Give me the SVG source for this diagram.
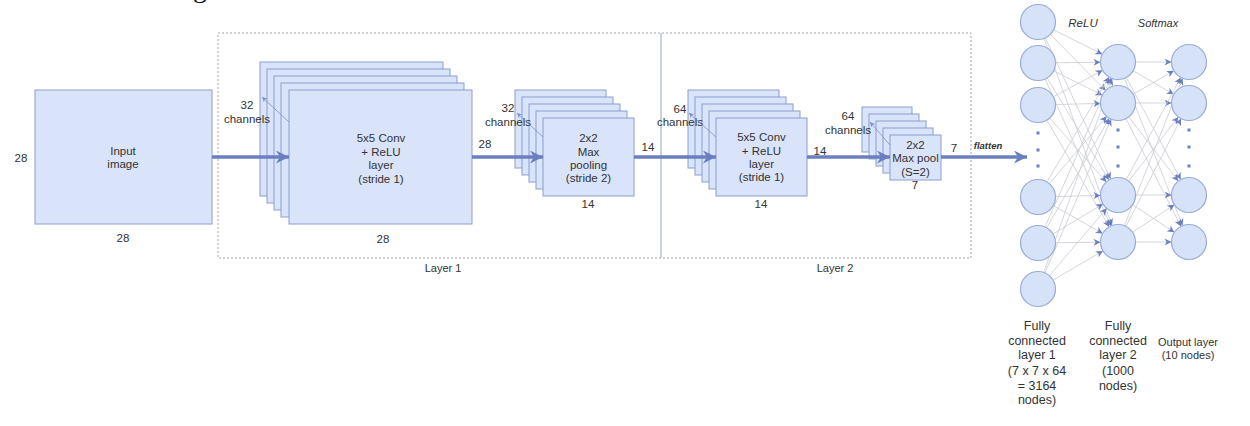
<svg xmlns="http://www.w3.org/2000/svg" width="1250" height="426" viewBox="0 0 1250 426">
<style>
text{font-family:"Liberation Sans",Arial,sans-serif;fill:#333;font-size:11.5px;text-anchor:middle}
.box{fill:#d9e3f9;stroke:#8a9fd0;stroke-width:1}
.node{fill:#d6e2f8;stroke:#98acd8;stroke-width:1.2}
.big{stroke:#6a7fc1;stroke-width:3.5;fill:none}
.thin{stroke:#7d8fc6;stroke-width:0.8;fill:none}
.fc{stroke:#c9ccd3;stroke-width:0.8;fill:none}
.dot{fill:#6c80c0}
.it{font-style:italic}
.lbl{font-size:12.5px}
</style>
<defs>
<marker id="ah" viewBox="0 0 10 10" refX="10" refY="5" markerWidth="15" markerHeight="13" markerUnits="userSpaceOnUse" orient="auto"><path d="M0,0 L10,5 L0,10 L3,5 Z" fill="#6a7fc1"/></marker>
<marker id="sa" viewBox="0 0 10 10" refX="10" refY="5" markerWidth="6" markerHeight="5" markerUnits="userSpaceOnUse" orient="auto"><path d="M0,0 L10,5 L0,10 L3,5 Z" fill="#7d8fc6"/></marker>
<marker id="fa" viewBox="0 0 10 10" refX="10" refY="5" markerWidth="7" markerHeight="7" markerUnits="userSpaceOnUse" orient="auto"><path d="M0,0 L10,5 L0,10 L3,5 Z" fill="#6a7fc1"/></marker>
</defs>
<rect width="1250" height="426" fill="#fff"/>
<text x="200" y="-3" style="font-family:'Liberation Serif',serif;font-size:28px;fill:#111">g</text>

<g id="layer-frame">
<rect x="218" y="33" width="753" height="225" fill="none" stroke="#a3a3a3" stroke-dasharray="2,2"/>
<line x1="661" y1="33" x2="661" y2="258" stroke="#a3b6cb" stroke-width="1.2"/>
<text x="443" y="272" style="font-size:11px">Layer 1</text>
<text x="835" y="272" style="font-size:11px">Layer 2</text>
</g>

<g id="input">
<rect class="box" x="35" y="90" width="177" height="134"/>
<text x="123" y="155">Input</text>
<text x="123" y="168">image</text>
<text x="21" y="162">28</text>
<text x="123" y="242">28</text>
</g>

<g id="conv1">
<rect class="box" x="260" y="62" width="183" height="134"/>
<rect class="box" x="267" y="69" width="183" height="134"/>
<rect class="box" x="274" y="76" width="183" height="134"/>
<rect class="box" x="281" y="83" width="183" height="134"/>
<rect class="box" x="289" y="90" width="183" height="134"/>
<text x="381" y="142">5x5 Conv</text>
<text x="381" y="155.5">+ ReLU</text>
<text x="381" y="169">layer</text>
<text x="381" y="182.5">(stride 1)</text>
<text x="247" y="109">32</text>
<text x="247" y="123">channels</text>
<text x="383" y="243">28</text>
<text x="485" y="148">28</text>
</g>

<g id="pool1">
<rect class="box" x="515" y="90" width="91" height="78"/>
<rect class="box" x="522" y="97" width="91" height="78"/>
<rect class="box" x="529" y="104" width="91" height="78"/>
<rect class="box" x="536" y="111" width="91" height="78"/>
<rect class="box" x="543" y="118" width="91" height="78"/>
<text x="588.5" y="142">2x2</text>
<text x="588.5" y="156">Max</text>
<text x="588.5" y="169">pooling</text>
<text x="588.5" y="182">(stride 2)</text>
<text x="508" y="112">32</text>
<text x="508" y="126">channels</text>
<text x="648" y="151">14</text>
<text x="588" y="208">14</text>
</g>

<g id="conv2">
<rect class="box" x="688" y="90" width="91" height="78"/>
<rect class="box" x="695" y="97" width="91" height="78"/>
<rect class="box" x="702" y="104" width="91" height="78"/>
<rect class="box" x="709" y="111" width="91" height="78"/>
<rect class="box" x="716" y="118" width="91" height="78"/>
<text x="761.5" y="141">5x5 Conv</text>
<text x="761.5" y="155">+ ReLU</text>
<text x="761.5" y="168">layer</text>
<text x="761.5" y="181">(stride 1)</text>
<text x="680" y="113">64</text>
<text x="680" y="126">channels</text>
<text x="820" y="155">14</text>
<text x="761" y="208">14</text>
</g>

<g id="pool2">
<rect class="box" x="862" y="107" width="50" height="45"/>
<rect class="box" x="869" y="114" width="50" height="45"/>
<rect class="box" x="876" y="121" width="50" height="45"/>
<rect class="box" x="883" y="128" width="50" height="45"/>
<rect class="box" x="890" y="135" width="51" height="45"/>
<text x="915.5" y="149">2x2</text>
<text x="915.5" y="162">Max pool</text>
<text x="915.5" y="176">(S=2)</text>
<text x="848" y="120">64</text>
<text x="848" y="134">channels</text>
<text x="915" y="189">7</text>
<text x="954" y="152">7</text>
<text x="988" y="149" style="font-weight:bold;font-style:italic;font-size:9.5px">flatten</text>
</g>

<g id="connectors">
<line class="big" x1="212" y1="157" x2="289" y2="157" marker-end="url(#ah)"/>
<line class="big" x1="472" y1="157" x2="543" y2="157" marker-end="url(#ah)"/>
<line class="big" x1="634" y1="157" x2="716" y2="157" marker-end="url(#ah)"/>
<line class="big" x1="807" y1="157" x2="890" y2="157" marker-end="url(#ah)"/>
<line class="big" x1="941" y1="157" x2="1027" y2="157" marker-end="url(#ah)"/>
<line class="thin" x1="289" y1="122" x2="262" y2="97" marker-end="url(#sa)"/>
<line class="thin" x1="543" y1="137" x2="517" y2="113" marker-end="url(#sa)"/>
<line class="thin" x1="716" y1="137" x2="689" y2="113" marker-end="url(#sa)"/>
<line class="thin" x1="890" y1="145" x2="870" y2="122" marker-end="url(#sa)"/>
<g marker-end="url(#fa)">
<line class="fc" x1="1038" y1="22" x2="1102.3" y2="54.2"/>
<line class="fc" x1="1038" y1="22" x2="1105.7" y2="90.5"/>
<line class="fc" x1="1038" y1="22" x2="1110.6" y2="179.1"/>
<line class="fc" x1="1038" y1="22" x2="1112" y2="225.6"/>
<line class="fc" x1="1038" y1="63" x2="1100.5" y2="62.2"/>
<line class="fc" x1="1038" y1="63" x2="1102.3" y2="95.2"/>
<line class="fc" x1="1038" y1="63" x2="1108.9" y2="180"/>
<line class="fc" x1="1038" y1="63" x2="1110.9" y2="226"/>
<line class="fc" x1="1038" y1="105" x2="1102.6" y2="70.3"/>
<line class="fc" x1="1038" y1="105" x2="1100.5" y2="103.4"/>
<line class="fc" x1="1038" y1="105" x2="1106.4" y2="181.9"/>
<line class="fc" x1="1038" y1="105" x2="1109.2" y2="226.9"/>
<line class="fc" x1="1038" y1="197" x2="1109.1" y2="77.1"/>
<line class="fc" x1="1038" y1="197" x2="1106.7" y2="116.3"/>
<line class="fc" x1="1038" y1="197" x2="1100.5" y2="195.4"/>
<line class="fc" x1="1038" y1="197" x2="1102.7" y2="233.4"/>
<line class="fc" x1="1038" y1="243" x2="1110.9" y2="78"/>
<line class="fc" x1="1038" y1="243" x2="1109.3" y2="118.2"/>
<line class="fc" x1="1038" y1="243" x2="1103" y2="204"/>
<line class="fc" x1="1038" y1="243" x2="1100.5" y2="242.2"/>
<line class="fc" x1="1038" y1="289" x2="1112.2" y2="78.5"/>
<line class="fc" x1="1038" y1="289" x2="1111.1" y2="119.1"/>
<line class="fc" x1="1038" y1="289" x2="1106.7" y2="208.3"/>
<line class="fc" x1="1038" y1="289" x2="1102.9" y2="250.9"/>
<line class="fc" x1="1118" y1="62" x2="1171.5" y2="62"/>
<line class="fc" x1="1118" y1="62" x2="1173.8" y2="94.3"/>
<line class="fc" x1="1118" y1="62" x2="1180.8" y2="179.6"/>
<line class="fc" x1="1118" y1="62" x2="1182.6" y2="225.7"/>
<line class="fc" x1="1118" y1="103" x2="1173.8" y2="70.8"/>
<line class="fc" x1="1118" y1="103" x2="1171.5" y2="103"/>
<line class="fc" x1="1118" y1="103" x2="1178.3" y2="181.1"/>
<line class="fc" x1="1118" y1="103" x2="1181" y2="226.4"/>
<line class="fc" x1="1118" y1="195" x2="1180.8" y2="77.4"/>
<line class="fc" x1="1118" y1="195" x2="1178.3" y2="116.9"/>
<line class="fc" x1="1118" y1="195" x2="1171.5" y2="195"/>
<line class="fc" x1="1118" y1="195" x2="1174.4" y2="232.3"/>
<line class="fc" x1="1118" y1="242" x2="1182.6" y2="78.3"/>
<line class="fc" x1="1118" y1="242" x2="1181" y2="118.6"/>
<line class="fc" x1="1118" y1="242" x2="1174.4" y2="204.7"/>
<line class="fc" x1="1118" y1="242" x2="1171.5" y2="242"/>
</g>
</g>

<g id="fc1">
<circle class="node" cx="1038" cy="22" r="17.5"/>
<circle class="node" cx="1038" cy="63" r="17.5"/>
<circle class="node" cx="1038" cy="105" r="17.5"/>
<rect class="dot" x="1036.5" y="131.5" width="3" height="3"/>
<rect class="dot" x="1036.5" y="148.5" width="3" height="3"/>
<rect class="dot" x="1036.5" y="164.5" width="3" height="3"/>
<circle class="node" cx="1038" cy="197" r="17.5"/>
<circle class="node" cx="1038" cy="243" r="17.5"/>
<circle class="node" cx="1038" cy="289" r="17.5"/>
<text class="lbl" x="1037" y="329.5">Fully</text>
<text class="lbl" x="1037" y="344.5">connected</text>
<text class="lbl" x="1037" y="358.5">layer 1</text>
<text class="lbl" x="1037" y="375">(7 x 7 x 64</text>
<text class="lbl" x="1037" y="389.5">= 3164</text>
<text class="lbl" x="1037" y="404">nodes)</text>
</g>

<g id="fc2">
<text class="it" x="1083" y="27">ReLU</text>
<circle class="node" cx="1118" cy="62" r="17.5"/>
<circle class="node" cx="1118" cy="103" r="17.5"/>
<rect class="dot" x="1116.5" y="128.5" width="3" height="3"/>
<rect class="dot" x="1116.5" y="145.5" width="3" height="3"/>
<rect class="dot" x="1116.5" y="164.5" width="3" height="3"/>
<circle class="node" cx="1118" cy="195" r="17.5"/>
<circle class="node" cx="1118" cy="242" r="17.5"/>
<text class="lbl" x="1118" y="329.5">Fully</text>
<text class="lbl" x="1118" y="344.5">connected</text>
<text class="lbl" x="1118" y="358.5">layer 2</text>
<text class="lbl" x="1118" y="375">(1000</text>
<text class="lbl" x="1118" y="389.5">nodes)</text>
</g>

<g id="output">
<text class="it" x="1158" y="27" style="font-size:11px">Softmax</text>
<circle class="node" cx="1189" cy="62" r="17.5"/>
<circle class="node" cx="1189" cy="103" r="17.5"/>
<rect class="dot" x="1187.5" y="128.5" width="3" height="3"/>
<rect class="dot" x="1187.5" y="145.5" width="3" height="3"/>
<rect class="dot" x="1187.5" y="164.5" width="3" height="3"/>
<circle class="node" cx="1189" cy="195" r="17.5"/>
<circle class="node" cx="1189" cy="242" r="17.5"/>
<text x="1188" y="346" style="font-size:11px">Output layer</text>
<text x="1188" y="359" style="font-size:11px">(10 nodes)</text>
</g>
</svg>
